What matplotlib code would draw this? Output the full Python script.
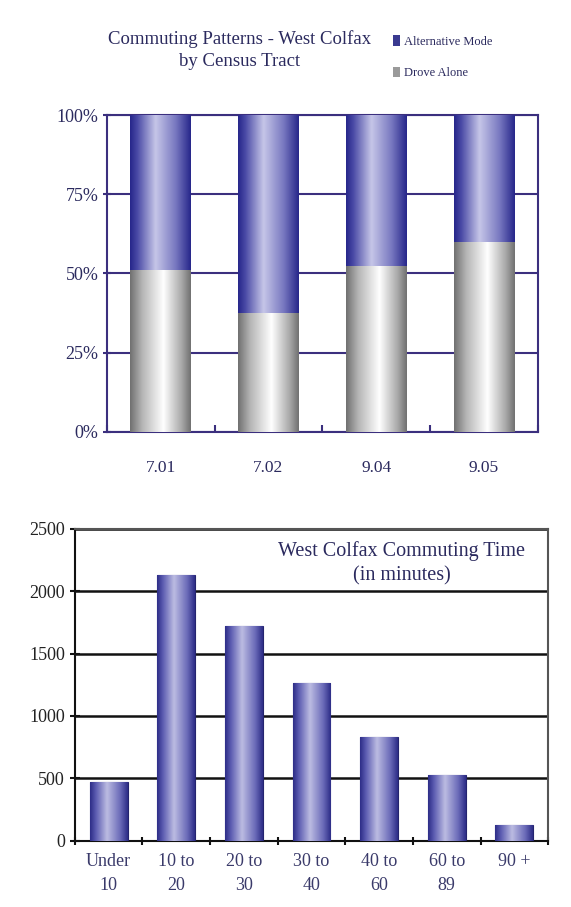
import matplotlib
matplotlib.use("Agg")
import matplotlib.pyplot as plt
import numpy as np
from matplotlib.colors import LinearSegmentedColormap
from matplotlib.patches import Patch

# top chart: share of commuters by census tract (%)
tracts = ["7.01", "7.02", "9.04", "9.05"]
drove_alone = [51, 37.5, 52.5, 60]
alternative = [49, 62.5, 47.5, 40]
pct_ticks = [0, 25, 50, 75, 100]

# bottom chart: commuting time (minutes)
time_labels = ["Under\n10", "10 to\n20", "20 to\n30", "30 to\n40", "40 to\n60", "60 to\n89", "90 +"]
commuters = [470, 2130, 1720, 1265, 835, 530, 125]
count_ticks = [0, 500, 1000, 1500, 2000, 2500]

plt.rcParams['font.family'] = ['Liberation Serif', 'DejaVu Serif']

navy = "#2b2a5e"
purple_line = "#3b2f7e"

blue_cm = LinearSegmentedColormap.from_list(
    "blue", [(0, "#26268a"), (0.12, "#4a4aa6"), (0.42, "#c6c6e8"), (0.75, "#7878c0"), (1, "#26268a")])
gray_cm = LinearSegmentedColormap.from_list(
    "gray", [(0, "#707070"), (0.2, "#b5b5b5"), (0.55, "#ffffff"), (0.85, "#a8a8a8"), (1, "#707070")])
bar_cm = LinearSegmentedColormap.from_list(
    "bar", [(0, "#2c2c86"), (0.15, "#5a5ab0"), (0.45, "#bcbce2"), (0.8, "#6a6ab8"), (1, "#2c2c86")])

grad = np.linspace(0, 1, 256).reshape(1, -1)


def shade(ax, bars, cmap):
    # paint a cylinder-like horizontal gradient inside each bar
    for b in bars:
        x, y = b.get_xy()
        w, h = b.get_width(), b.get_height()
        im = ax.imshow(grad, extent=[x, x + w, y, y + h], aspect="auto",
                       cmap=cmap, zorder=b.get_zorder() + 0.1, interpolation="bicubic")
        im.set_clip_path(b)


fig = plt.figure(figsize=(5.71, 9.07), dpi=100)

# ---- top chart
ax1 = fig.add_axes([0.187, 0.524, 0.755, 0.349])
xs = np.arange(len(tracts))
b1 = ax1.bar(xs, drove_alone, width=0.56, color="#d0d0d0", linewidth=0, zorder=3)
b2 = ax1.bar(xs, alternative, width=0.56, bottom=drove_alone, color="#6060b0", linewidth=0, zorder=3)
shade(ax1, b1, gray_cm)
shade(ax1, b2, blue_cm)
ax1.set_xlim(-0.5, len(tracts) - 0.5)
ax1.set_ylim(0, 100)
ax1.set_yticks(pct_ticks)
ax1.set_yticklabels([f"{t}%" for t in pct_ticks])
ax1.set_xticks(np.arange(len(tracts) + 1) - 0.5, minor=False)
ax1.set_xticklabels([])
ax1.set_xticks(xs, minor=True)
ax1.set_xticklabels(tracts, minor=True)
ax1.tick_params(axis="x", which="minor", length=0, pad=20, labelsize=12.5, labelcolor=navy)
ax1.tick_params(axis="x", which="major", length=5, width=1.5, color=purple_line, direction="in")
ax1.tick_params(axis="y", length=6, width=1.5, color=purple_line, labelsize=13, labelcolor=navy,
                direction="inout", pad=3)
ax1.yaxis.grid(True, color=purple_line, linewidth=1.5, zorder=1)
ax1.set_axisbelow(True)
for s in ax1.spines.values():
    s.set_color(purple_line)
    s.set_linewidth(1.5)

fig.text(240 / 571, 1 - 30 / 907, "Commuting Patterns - West Colfax\nby Census Tract",
         ha="center", va="top", fontsize=13.5, color=navy, linespacing=1.4)
handles = [Patch(facecolor="#3a3a90", edgecolor="none"), Patch(facecolor="#9a9a9a", edgecolor="none")]
fig.legend(handles, ["Alternative Mode", "Drove Alone"], loc="upper left",
           bbox_to_anchor=(382 / 571, 1 - 24 / 907), frameon=False, fontsize=9,
           handlelength=0.5, handleheight=0.9, handletextpad=0.4, labelspacing=1.5,
           labelcolor=navy)

# ---- bottom chart
ax2 = fig.add_axes([0.131, 0.073, 0.829, 0.344])
xs2 = np.arange(len(time_labels))
b3 = ax2.bar(xs2, commuters, width=0.56, color="#6a6ab8", edgecolor="#24246e", linewidth=0.8, zorder=3)
shade(ax2, b3, bar_cm)
ax2.set_xlim(-0.5, len(time_labels) - 0.5)
ax2.set_ylim(0, 2500)
ax2.set_yticks(count_ticks)
ax2.set_xticks(np.arange(len(time_labels) + 1) - 0.5)
ax2.set_xticklabels([])
ax2.set_xticks(xs2, minor=True)
ax2.set_xticklabels(time_labels, minor=True, linespacing=1.5)
ax2.tick_params(axis="x", which="minor", length=0, pad=9, labelsize=13, labelcolor="#3a3a6a")
ax2.tick_params(axis="x", which="major", length=6, width=1.5, color="#111111", direction="inout")
ax2.tick_params(axis="y", length=7, width=1.5, color="#111111", labelsize=13, labelcolor="#222222", direction="inout")
ax2.yaxis.grid(True, color="#111111", linewidth=1.8, zorder=1)
ax2.set_axisbelow(True)
for k, s in ax2.spines.items():
    s.set_color("#111111" if k in ("left", "bottom") else "#555555")
    s.set_linewidth(1.5)
ax2.text(0.69, 0.96, "West Colfax Commuting Time\n(in minutes)", transform=ax2.transAxes,
         ha="center", va="top", fontsize=14.5, color=navy, linespacing=1.35,
         bbox=dict(facecolor="white", edgecolor="none", pad=1))

fig.savefig("out.png", dpi=100)
